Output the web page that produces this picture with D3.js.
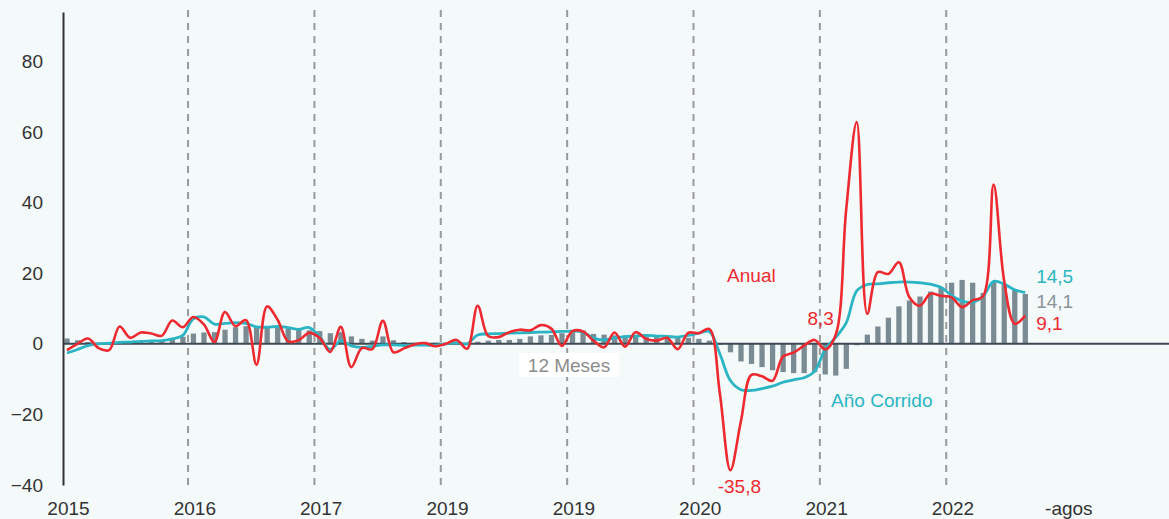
<!DOCTYPE html>
<html>
<head>
<meta charset="utf-8">
<script src="https://cdn.jsdelivr.net/npm/d3@7"></script>
<style>
  html, body { margin: 0; padding: 0; background: #f4f9fa; }
  svg { display: block; font-family: "Liberation Sans", Arial, sans-serif; }
</style>
</head>
<body>
<div id="chart"></div>
<script>
// Chart data (monthly, Jan 2015 - Aug 2022)
var months = d3.timeMonth.range(new Date(2015, 0, 1), new Date(2023, 0, 1)).map(d3.timeFormat("%Y-%m"));

var anual = [
  -1.8, 0.0, 1.5, -1.2, -1.8, 4.9, 1.7, 3.2, 2.9, 2.3, 6.6, 4.7,
  7.6, 5.5, 0.5, 9.0, 5.0, 6.7, -5.9, 10.6, 6.8, 0.7, 1.0, 3.1,
  1.7, -2.3, 4.8, -6.6, -1.2, -1.5, 6.5, -2.4, -1.3, -0.2, 0.2, -0.7,
  0.0, 1.1, -1.4, 10.8, 2.2, 1.9, 3.3, 4.0, 3.8, 5.3, 4.3, -0.6,
  3.6, 3.5, 0.9, -1.0, 3.2, -0.8, 3.3, 1.4, 0.9, 1.7, -1.5, 3.1,
  3.0, 4.2, -14.0, -35.8, -22.0, -8.8, -9.2, -10.5, -3.6, -2.5, -0.5, 1.1,
  -1.6, 2.5, 38.0, 62.8, 8.5, 20.3, 19.8, 23.1, 13.2, 10.8, 14.2, 13.6,
  13.2, 10.4, 12.3, 13.5, 45.1, 17.9, 5.7, 8.0
];

var anoCorrido = [
  -2.6, -1.6, -0.5, 0.0, 0.2, 0.4, 0.5, 0.7, 0.8, 0.9, 1.4, 2.4,
  7.1, 7.6, 5.6, 5.8, 6.0, 5.8, 4.8, 4.7, 4.9, 4.6, 4.1, 4.6,
  2.0, -1.6, 0.9, -0.6, -1.0, -0.7, -0.3, -0.3, -0.5, -0.4, -0.4, -0.4,
  0.0, 0.3, 0.0, 2.5, 2.8, 2.9, 3.0, 3.1, 3.2, 3.3, 3.4, 3.5,
  3.6, 3.3, 1.6, 1.1, 1.7, 2.0, 2.2, 2.4, 2.2, 2.1, 1.9, 2.4,
  3.0, 3.5, -2.8, -10.4, -13.0, -13.2, -12.7, -12.0, -10.9, -10.2, -9.6, -7.8,
  -1.6, 1.8, 5.9, 15.0, 16.8, 17.0, 17.3, 17.5, 17.5, 17.3, 16.9, 16.0,
  13.7, 12.1, 11.8, 13.5, 17.7, 16.9, 15.3, 14.5
];

var doceMeses = [
  1.5, 1.0, 0.5, 0.3, 0.2, 0.6, 0.4, 0.5, 0.6, 1.0, 1.5, 2.0,
  2.9, 3.2, 3.3, 4.0, 4.7, 5.0, 4.8, 4.8, 4.6, 4.3, 4.1, 3.8,
  3.6, 3.0, 3.3, 2.1, 1.4, 0.9, 2.1, 1.0, 0.5, 0.3, 0.2, 0.3,
  0.2, 0.2, 0.2, 0.6, 0.9, 1.1, 1.1, 1.4, 2.1, 2.4, 2.5, 3.0,
  3.3, 3.8, 2.8, 2.6, 2.4, 2.4, 2.4, 2.1, 2.1, 2.1, 1.9, 1.7,
  1.4, 0.9, -0.3, -2.4, -5.0, -5.7, -6.6, -7.5, -8.0, -8.3, -8.3, -8.0,
  -8.7, -9.0, -7.1, -0.4, 2.6, 4.9, 7.4, 10.6, 12.3, 13.4, 14.8, 16.0,
  17.3, 18.1, 17.3, 14.4, 17.5, 16.8, 15.2, 14.1
];

var tickMonths = ["2015-01", "2016-01", "2017-01", "2018-01", "2019-01", "2020-01", "2021-01", "2022-01", "2022-12"];
var tickLabels = ["2015", "2016", "2017", "2019", "2019", "2020", "2021", "2022", "-agos"];
var yearLines = ["2016-01", "2017-01", "2018-01", "2019-01", "2020-01", "2021-01", "2022-01"];
var yTicks = [-40, -20, 0, 20, 40, 60, 80];
var endLabels = ["14,5", "14,1", "9,1"];

// Drawing settings
var fullWidth = 1169;
var fullHeight = 519;
var red = "#ee2a31";
var teal = "#2bb5c4";
var barColor = "#7b8b93";

var svg = d3.select("#chart")
  .append("svg")
  .attr("width", fullWidth)
  .attr("height", fullHeight);

var xScale = d3.scaleBand()
  .domain(months)
  .range([61.7, 61.7 + 96 * 10.53])
  .padding(0);

var yScale = d3.scaleLinear()
  .domain([-40, 94])
  .range([485, 12]);

var bw = xScale.bandwidth();
function xc(m) { return xScale(m) + bw / 2; }

// dashed year separators
svg.selectAll(".year-line")
  .data(yearLines)
  .enter()
  .append("line")
    .attr("x1", function(d) { return xScale(d); })
    .attr("x2", function(d) { return xScale(d); })
    .attr("y1", 10)
    .attr("y2", 486)
    .attr("stroke", "#9a9a9a")
    .attr("stroke-width", 2)
    .attr("stroke-dasharray", "7,6");

// 12 meses bars
svg.selectAll(".bar")
  .data(doceMeses)
  .enter()
  .append("rect")
    .attr("fill", barColor)
    .attr("x", function(d, i) { return xScale(months[i]) + bw * 0.26; })
    .attr("width", bw * 0.5)
    .attr("y", function(d) { return yScale(Math.max(0, d)); })
    .attr("height", function(d) { return Math.abs(yScale(d) - yScale(0)); });

// zero line
svg.append("line")
  .attr("x1", 63)
  .attr("x2", fullWidth)
  .attr("y1", yScale(0))
  .attr("y2", yScale(0))
  .attr("stroke", "#3d4a53")
  .attr("stroke-width", 2);

// y axis
var yAxis = d3.axisLeft(yScale)
  .tickValues(yTicks)
  .tickSize(0)
  .tickPadding(20);

var yG = svg.append("g")
  .attr("transform", "translate(63,0)")
  .call(yAxis);
yG.select(".domain").attr("stroke", "#333").attr("stroke-width", 2);
yG.selectAll("text")
  .attr("font-size", 19)
  .attr("font-family", "Liberation Sans, Arial, sans-serif")
  .attr("fill", "#333");

// x axis labels
var xAxis = d3.axisBottom(xScale)
  .tickValues(tickMonths)
  .tickFormat(function(d) { return tickLabels[tickMonths.indexOf(d)]; })
  .tickSize(0)
  .tickPadding(17);

var xG = svg.append("g")
  .attr("transform", "translate(1.5,485)")
  .call(xAxis);
xG.select(".domain").remove();
xG.selectAll("text")
  .attr("font-size", 19)
  .attr("font-family", "Liberation Sans, Arial, sans-serif")
  .attr("fill", "#333");

// lines
var line = d3.line()
  .x(function(d, i) { return xc(months[i]); })
  .y(function(d) { return yScale(d); })
  .curve(d3.curveCatmullRom.alpha(0.5));

svg.append("path")
  .datum(anoCorrido)
  .attr("d", line)
  .attr("fill", "none")
  .attr("stroke", teal)
  .attr("stroke-width", 2.8);

svg.append("path")
  .datum(anual)
  .attr("d", line)
  .attr("fill", "none")
  .attr("stroke", red)
  .attr("stroke-width", 2.6);

// annotations
function label(txt, x, y, color, anchor) {
  svg.append("text")
    .attr("x", x)
    .attr("y", y)
    .attr("fill", color)
    .attr("font-size", 19)
    .attr("text-anchor", anchor || "middle")
    .text(txt);
}

label("Anual", xc("2020-06"), yScale(17.5), red);
label("8,3", xc("2020-12") + 6, yScale(5.2), red);
label("-35,8", xc("2020-04") + 9, yScale(-42.2), red);
label("Año Corrido", xc("2021-06") + 4, yScale(-18), teal);

var last = months[anual.length - 1];
label(endLabels[0], xc(last) + 11, yScale(17.2), teal, "start");
label(endLabels[1], xc(last) + 11, yScale(10.1), "#8a949a", "start");
label(endLabels[2], xc(last) + 11, yScale(3.9), red, "start");

// 12 Meses tag
svg.append("rect")
  .attr("x", 519)
  .attr("y", 353)
  .attr("width", 100)
  .attr("height", 24)
  .attr("fill", "#ffffff");
label("12 Meses", 569, 372, "#8c8c8c");
</script>
</body>
</html>
